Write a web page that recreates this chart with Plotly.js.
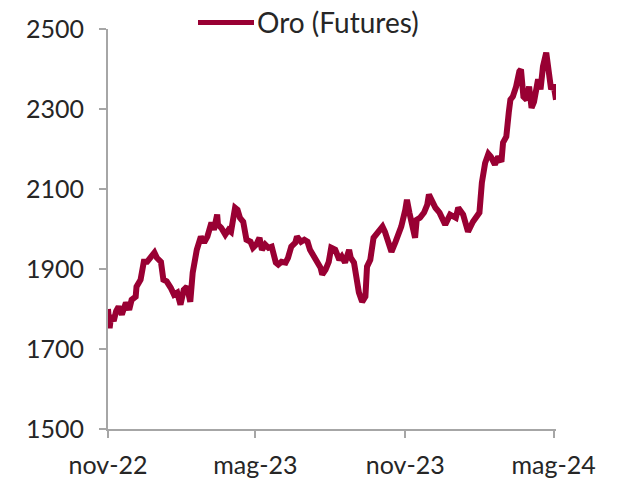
<!DOCTYPE html>
<html>
<head>
<meta charset="utf-8">
<script src="https://cdn.plot.ly/plotly-3.0.1.min.js"></script>
<style>
  html, body { margin: 0; padding: 0; background: #ffffff; }
  #chart { width: 617px; height: 482px; }
</style>
</head>
<body>
<div id="chart"></div>
<script>
// Series name
const seriesName = "Oro (Futures)";

// Dates
const dates = [
  "2022-11-01","2022-11-03","2022-11-05","2022-11-08","2022-11-11","2022-11-14","2022-11-18","2022-11-23","2022-11-27","2022-11-30",
  "2022-12-05","2022-12-06","2022-12-11","2022-12-15","2022-12-19","2022-12-24","2022-12-28","2022-12-31",
  "2023-01-05","2023-01-08","2023-01-12","2023-01-17","2023-01-21","2023-01-25","2023-01-29",
  "2023-02-02","2023-02-06","2023-02-10","2023-02-13","2023-02-18","2023-02-23","2023-02-27",
  "2023-03-03","2023-03-08","2023-03-11","2023-03-15","2023-03-16","2023-03-20","2023-03-25","2023-03-29",
  "2023-04-01","2023-04-06","2023-04-09","2023-04-12","2023-04-16","2023-04-20","2023-04-25","2023-04-28",
  "2023-05-02","2023-05-06","2023-05-09","2023-05-13","2023-05-17","2023-05-21","2023-05-26","2023-05-29",
  "2023-06-02","2023-06-07","2023-06-10","2023-06-14","2023-06-19","2023-06-21","2023-06-26","2023-06-30",
  "2023-07-04","2023-07-07","2023-07-11","2023-07-15","2023-07-20","2023-07-22","2023-07-26","2023-07-30",
  "2023-08-02","2023-08-07","2023-08-12","2023-08-15","2023-08-19","2023-08-24","2023-08-26","2023-08-30",
  "2023-09-02","2023-09-05","2023-09-09","2023-09-13","2023-09-15","2023-09-19","2023-09-23","2023-09-26","2023-09-30",
  "2023-10-04","2023-10-07","2023-10-12","2023-10-15","2023-10-20","2023-10-24","2023-10-27",
  "2023-11-01","2023-11-03","2023-11-06","2023-11-09","2023-11-13","2023-11-15","2023-11-19","2023-11-24","2023-11-28","2023-11-30",
  "2023-12-04","2023-12-08","2023-12-13","2023-12-16","2023-12-20","2023-12-26",
  "2024-01-02","2024-01-05","2024-01-11","2024-01-17","2024-01-23","2024-01-31",
  "2024-02-03","2024-02-07","2024-02-11","2024-02-14","2024-02-19","2024-02-23","2024-02-27","2024-02-29",
  "2024-03-04","2024-03-07","2024-03-09","2024-03-12","2024-03-16","2024-03-20","2024-03-22","2024-03-25","2024-03-29",
  "2024-04-01","2024-04-04","2024-04-07","2024-04-12","2024-04-15","2024-04-18","2024-04-22","2024-04-26","2024-04-28",
  "2024-05-01","2024-05-04"
];

// Gold futures price (USD/oz)
const prices = [
  1800,1752,1785,1770,1795,1806,1786,1816,1798,1823,
  1831,1856,1873,1918,1918,1928,1941,1928,
  1918,1873,1869,1853,1836,1841,1811,
  1848,1856,1818,1891,1948,1981,1966,
  1981,2016,1998,2036,2011,2003,1986,1998,
  1993,2053,2048,2028,2018,1973,1968,1953,
  1961,1978,1948,1961,1953,1956,1916,1911,
  1918,1916,1928,1956,1966,1981,1968,1973,
  1968,1948,1936,1918,1903,1886,1898,1918,
  1953,1948,1923,1931,1916,1948,1928,1916,
  1873,1841,1818,1831,1906,1923,1978,1986,1998,
  2006,1993,1966,1943,1968,1991,2006,
  2048,2073,2041,2016,1978,2023,2028,2041,2061,2086,
  2066,2053,2041,2031,2011,2036,
  2028,2053,2036,1993,2018,2041,
  2116,2165,2188,2181,2161,2181,2168,2216,
  2231,2291,2323,2331,2356,2394,2399,2331,2323,
  2356,2303,2318,2374,2349,2406,2441,2366,2349,
  2361,2323
];

// Axis ticks
const xTickVals = ["2022-11-01","2023-05-01","2023-11-01","2024-05-01"];
const xTickText = ["nov-22","mag-23","nov-23","mag-24"];
const yTickVals = [1500,1700,1900,2100,2300,2500];

const lineColor = "#990033";
const axisColor = "#a6a6a6";
const textColor = "#262626";
const fontFamily = "Lato, 'Open Sans', sans-serif";

const trace = {
  type: "scatter",
  mode: "lines",
  x: dates,
  y: prices,
  name: seriesName,
  line: { color: lineColor, width: 6, shape: "linear" },
  hoverinfo: "x+y"
};

// Legend position (paper coordinates relative to plot area)
const legendY = (429.3 - 22.7) / 400;

const layout = {
  width: 617,
  height: 482,
  margin: { l: 108, r: 61, t: 29, b: 53, pad: 0 },
  paper_bgcolor: "#ffffff",
  plot_bgcolor: "#ffffff",
  showlegend: false,
  font: { family: fontFamily, size: 25, color: textColor },
  xaxis: {
    type: "date",
    range: ["2022-11-01", "2024-05-04"],
    tickmode: "array",
    tickvals: xTickVals,
    ticktext: xTickText,
    showgrid: false,
    zeroline: false,
    showline: true,
    linecolor: axisColor,
    linewidth: 2,
    ticks: "outside",
    ticklen: 7,
    tickwidth: 2,
    tickcolor: axisColor,
    tickfont: { family: fontFamily, size: 25, color: textColor },
    ticklabelstandoff: 6
  },
  yaxis: {
    range: [1500, 2500],
    tickmode: "array",
    tickvals: yTickVals,
    showgrid: false,
    zeroline: false,
    showline: true,
    linecolor: axisColor,
    linewidth: 2,
    ticks: "outside",
    ticklen: 7,
    tickwidth: 2,
    tickcolor: axisColor,
    tickfont: { family: fontFamily, size: 25, color: textColor },
    ticklabelstandoff: 10
  },
  shapes: [
    {
      type: "line", xref: "paper", yref: "paper",
      x0: (198 - 108) / 448, x1: (254 - 108) / 448,
      y0: legendY, y1: legendY,
      line: { color: lineColor, width: 5 }
    }
  ],
  annotations: [
    {
      xref: "paper", yref: "paper",
      x: (255 - 108) / 448, y: legendY,
      xanchor: "left", yanchor: "middle",
      text: seriesName,
      showarrow: false,
      font: { family: fontFamily, size: 28, color: textColor }
    }
  ]
};

Plotly.newPlot("chart", [trace], layout, { displayModeBar: false, staticPlot: true });
</script>
</body>
</html>
